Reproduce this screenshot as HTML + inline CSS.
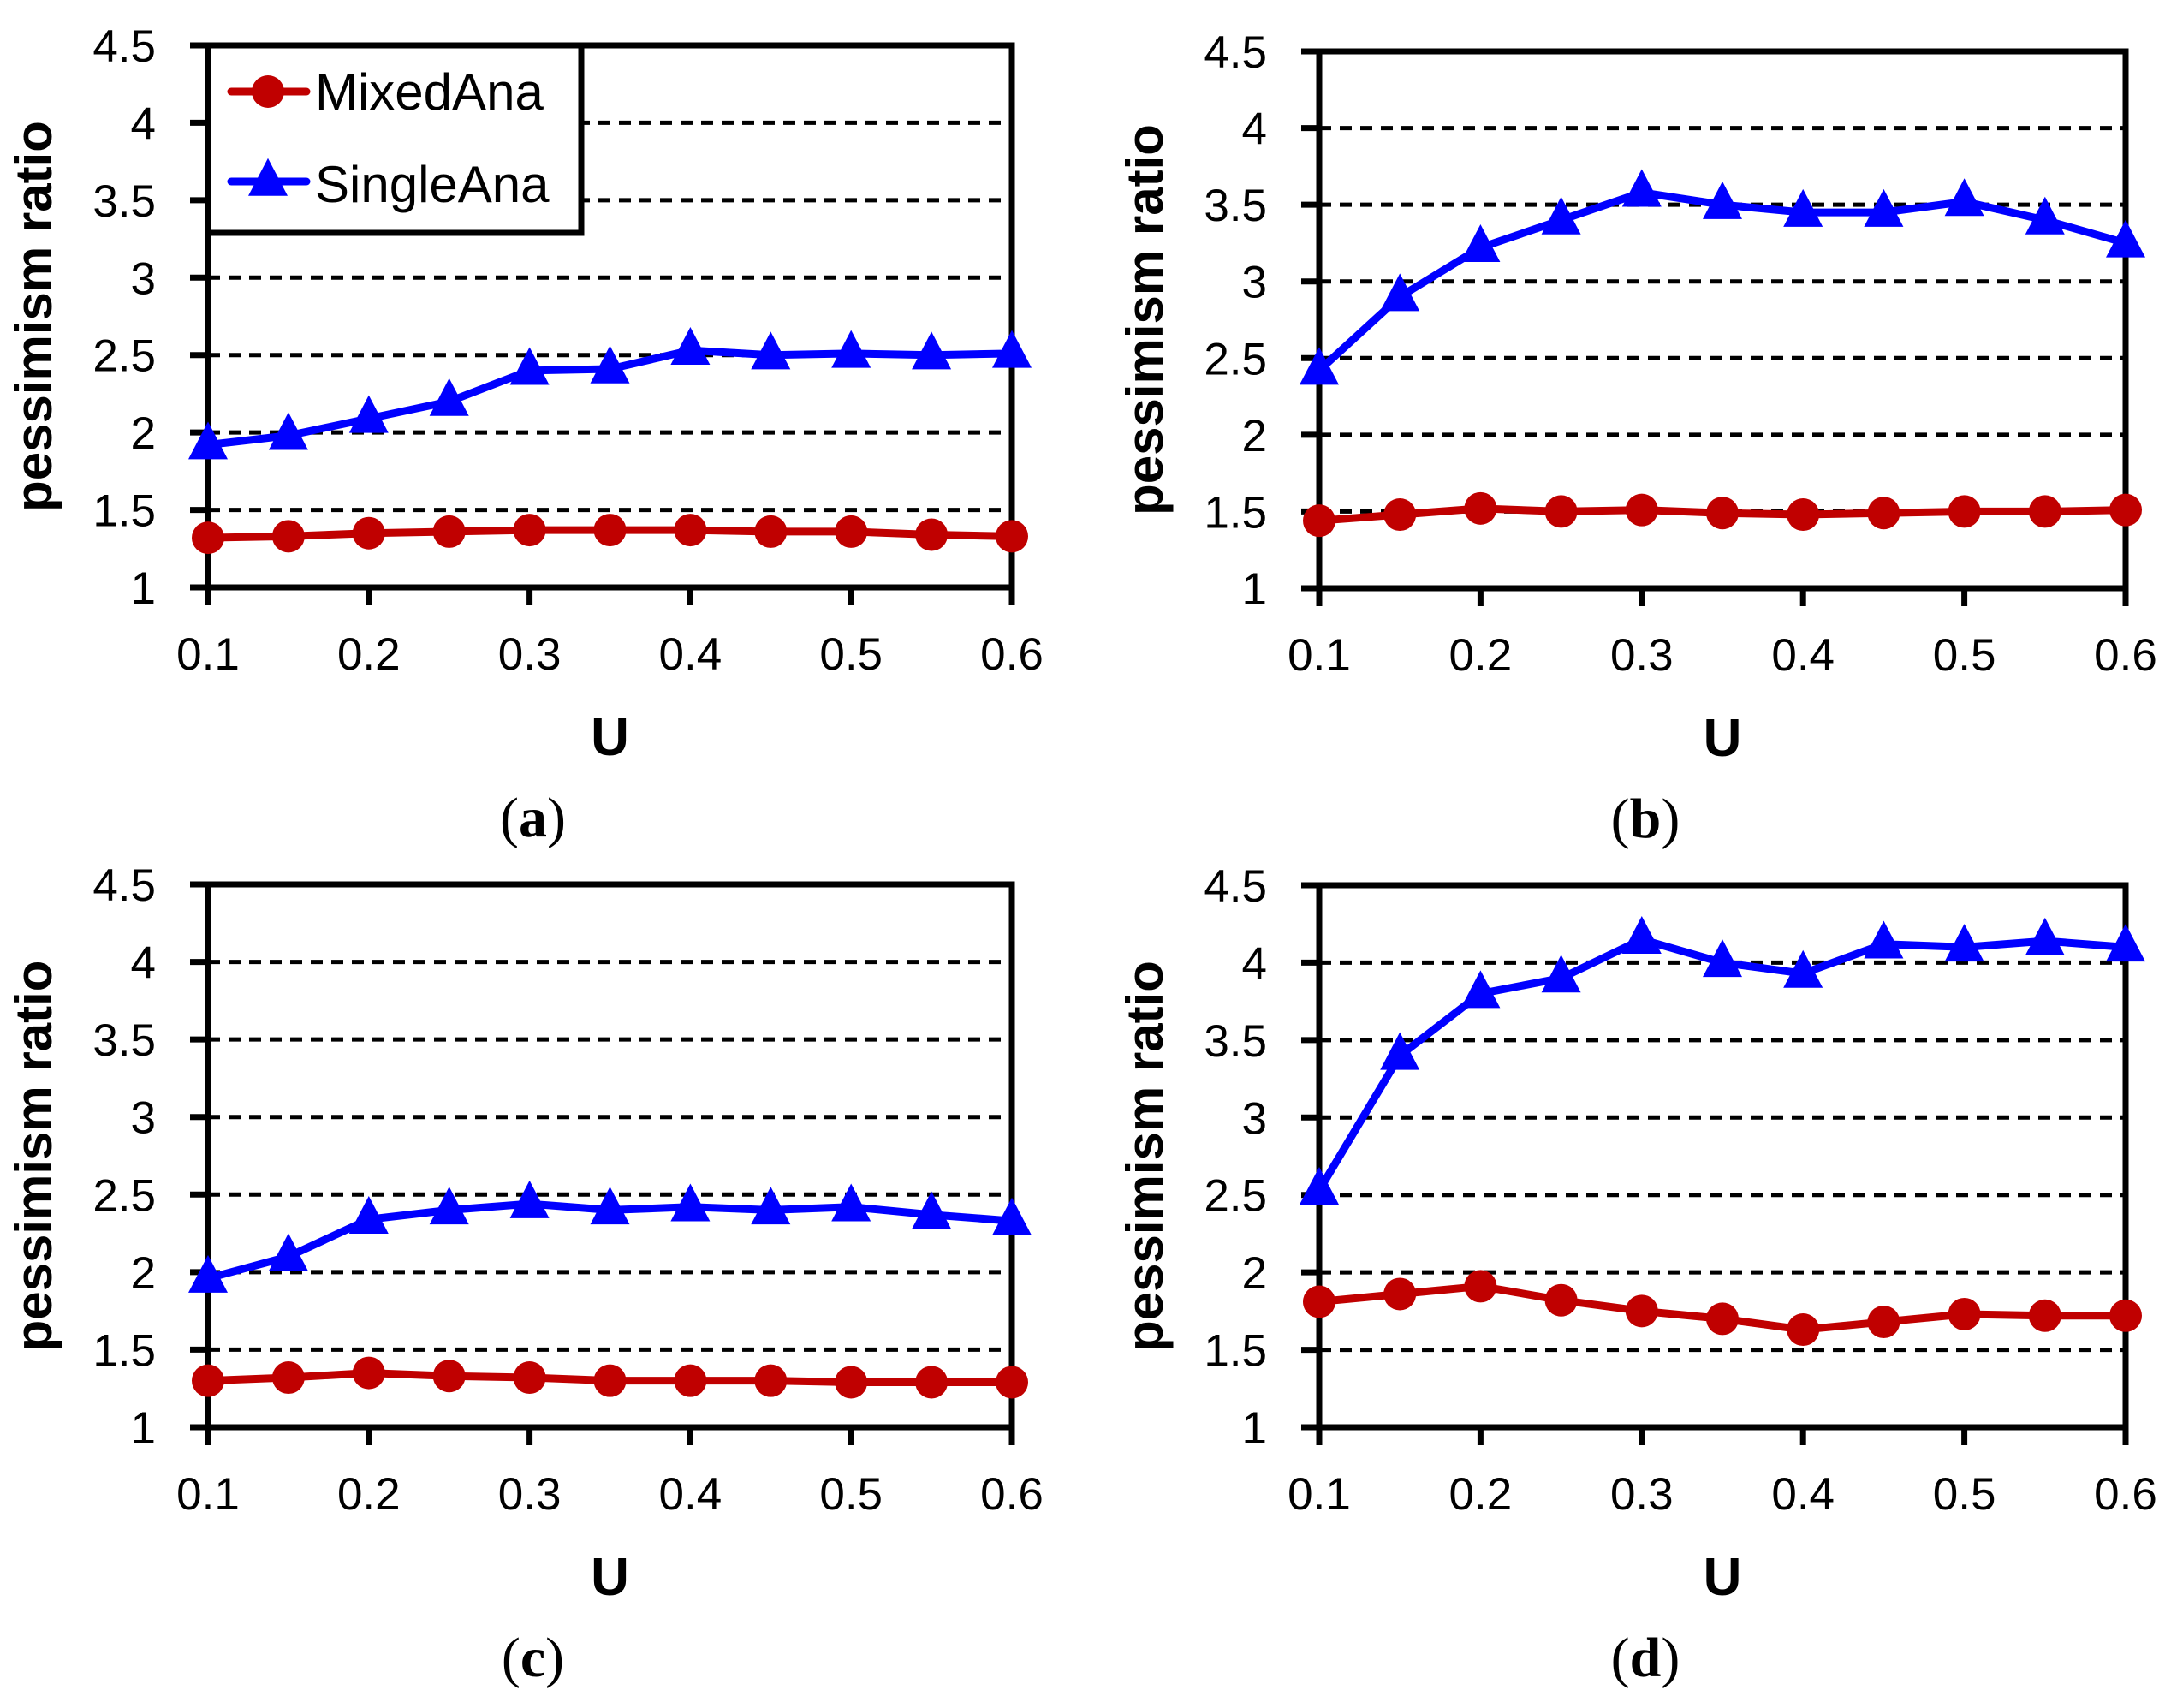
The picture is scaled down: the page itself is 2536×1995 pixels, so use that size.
<!DOCTYPE html>
<html><head><meta charset="utf-8"><style>
html,body{margin:0;padding:0;background:#fff;}
svg{display:block;}
</style></head><body>
<svg id="chart" width="2536" height="1995" viewBox="0 0 2536 1995" xmlns="http://www.w3.org/2000/svg" font-family="Liberation Sans, sans-serif"></svg>
<script>
const xValues=[0.1,0.15,0.2,0.25,0.3,0.35,0.4,0.45,0.5,0.55,0.6];
const xTickLabels=["0.1","0.2","0.3","0.4","0.5","0.6"];
const yTickLabels=["1","1.5","2","2.5","3","3.5","4","4.5"];
const panelLabels=["(a)","(b)","(c)","(d)"];
const mixedA=[1.32,1.33,1.35,1.36,1.37,1.37,1.37,1.36,1.36,1.34,1.33];
const singleA=[1.92,1.98,2.09,2.20,2.40,2.41,2.53,2.50,2.51,2.50,2.51];
const mixedB=[1.44,1.48,1.52,1.50,1.51,1.49,1.48,1.49,1.50,1.50,1.51];
const singleB=[2.42,2.90,3.22,3.40,3.58,3.50,3.45,3.45,3.52,3.40,3.25];
const mixedC=[1.30,1.32,1.35,1.33,1.32,1.30,1.30,1.30,1.29,1.29,1.29];
const singleC=[1.96,2.10,2.34,2.40,2.44,2.40,2.42,2.40,2.42,2.37,2.33];
const mixedD=[1.81,1.86,1.91,1.82,1.75,1.70,1.63,1.68,1.73,1.72,1.72];
const singleD=[2.53,3.40,3.80,3.90,4.15,4.00,3.93,4.12,4.10,4.14,4.10];

const NS="http://www.w3.org/2000/svg";
const svg=document.getElementById('chart');
function mk(tag,attrs,parent){const e=document.createElementNS(NS,tag);for(const k in attrs)e.setAttribute(k,attrs[k]);(parent||svg).appendChild(e);return e;}

const panels=[
 {L:243,R:1182,T:53,B:686,mixed:mixedA,single:singleA,legend:true},
 {L:1541,R:2483,T:60,B:687,mixed:mixedB,single:singleB},
 {L:243,R:1182,T:1033,B:1667,mixed:mixedC,single:singleC},
 {L:1541,R:2483,T:1034,B:1667,mixed:mixedD,single:singleD}
];
function tri(g,cx,cy){const h=44,w=46;return mk('polygon',{points:`${cx},${cy-h*0.62} ${cx-w/2},${cy+h*0.38} ${cx+w/2},${cy+h*0.38}`,fill:'#0000ff'},g);}

panels.forEach((p,i)=>{
  const g=mk('g',{});
  
  
  const xs=v=>p.L+(v-0.1)/0.5*(p.R-p.L);
  const ys=v=>p.B-(v-1)/3.5*(p.B-p.T);
  for(let k=1;k<yTickLabels.length-1;k++){
    const v=1+k*0.5;
    const l=mk('line',{x1:p.L,x2:p.R,y1:ys(v),y2:ys(v),stroke:'#000','stroke-width':5,'stroke-dasharray':'14 10'},g);
    
    
  }
  yTickLabels.forEach((t,k)=>{
    const v=1+k*0.5,y=ys(v);
    mk('line',{x1:p.L-21,x2:p.L,y1:y,y2:y,stroke:'#000','stroke-width':7},g);
    const tx=mk('text',{x:p.L-61,y:y+19,'text-anchor':'end','font-size':53},g);
    tx.textContent=t;
    
    
  });
  xTickLabels.forEach(t=>{
    const x=xs(parseFloat(t));
    mk('line',{x1:x,x2:x,y1:p.B,y2:p.B+21,stroke:'#000','stroke-width':7},g);
    const tx=mk('text',{x:x,y:p.B+96,'text-anchor':'middle','font-size':53},g);
    tx.textContent=t;
    
    
  });
  const mixedPts=p.mixed.map((v,j)=>xs(xValues[j])+','+ys(v)).join(' ');
  const ml=mk('polyline',{points:mixedPts,fill:'none',stroke:'#c00000','stroke-width':9,'stroke-linejoin':'round'},g);
  
  
  const singlePts=p.single.map((v,j)=>xs(xValues[j])+','+ys(v)).join(' ');
  const sl=mk('polyline',{points:singlePts,fill:'none',stroke:'#0000ff','stroke-width':9,'stroke-linejoin':'round'},g);
  
  
  const fr=mk('rect',{x:p.L,y:p.T,width:p.R-p.L,height:p.B-p.T,fill:'none',stroke:'#000','stroke-width':7},g);
  
  
  p.mixed.forEach((v,j)=>{
    const c=mk('circle',{cx:xs(xValues[j]),cy:ys(v),r:19,fill:'#c00000'},g);
    
    
  });
  p.single.forEach((v,j)=>{
    const t=tri(g,xs(xValues[j]),ys(v));
    
    
  });
  const cx=(p.L+p.R)/2, cy=(p.T+p.B)/2;
  const yt=mk('text',{x:0,y:0,transform:`translate(${p.L-183},${cy}) rotate(-90)`,'text-anchor':'middle','font-size':60,'font-weight':'bold'},g);
  yt.textContent='pessimism ratio';
  
  
  const xt=mk('text',{x:cx,y:p.B+196,'text-anchor':'middle','font-size':62,'font-weight':'bold'},g);
  xt.textContent='U';
  
  
  const pl=mk('text',{x:cx-90,y:p.B+291,'text-anchor':'middle','font-size':66,style:'font-family:"Liberation Serif",serif'},g);
  pl.innerHTML='(<tspan font-weight="bold">'+panelLabels[i].slice(1,2)+'</tspan>)';
  
  
  if(p.legend){
    const lg=mk('g',{},g);
    
    
    mk('rect',{x:p.L,y:p.T,width:436,height:219,fill:'#fff',stroke:'#000','stroke-width':7},lg);
    const e1=mk('g',{},lg);
    
    
    mk('line',{x1:270,x2:358,y1:107,y2:107,stroke:'#c00000','stroke-width':9,'stroke-linecap':'round'},e1);
    mk('circle',{cx:313,cy:107,r:19,fill:'#c00000'},e1);
    const t1=mk('text',{x:368,y:128,'font-size':60},e1);t1.textContent='MixedAna';
    const e2=mk('g',{},lg);
    
    
    mk('line',{x1:270,x2:358,y1:212,y2:212,stroke:'#0000ff','stroke-width':9,'stroke-linecap':'round'},e2);
    tri(e2,313,212);
    const t2=mk('text',{x:368,y:236,'font-size':60},e2);t2.textContent='SingleAna';
  }
});
</script>
</body></html>
